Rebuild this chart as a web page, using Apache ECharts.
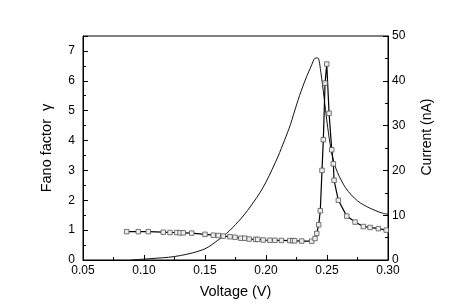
<!DOCTYPE html>
<html><head><meta charset="utf-8">
<script src="https://cdn.jsdelivr.net/npm/echarts@6/dist/echarts.min.js"></script>
<style>html,body{margin:0;padding:0;background:#fff}#c{width:450px;height:308px}</style>
</head><body><div id="c"></div>
<script>
// Fano factor (left axis), squares
const fanoV = [0.0858,0.0953,0.1035,0.1158,0.1213,0.1268,0.1295,0.1322,0.1391,0.150,0.1568,0.1609,0.165,0.1705,0.1746,0.1794,0.1826,0.1862,0.1915,0.1932,0.1977,0.2032,0.2073,0.2127,0.2195,0.2220,0.2235,0.2293,0.2375,0.2402,0.2416,0.2432,0.2445,0.2459,0.2470,0.2484,0.2498,0.2517,0.2539,0.2552,0.2558,0.2593,0.2662,0.2730,0.2798,0.2853,0.2921,0.2985];
const fanoF = [0.95,0.95,0.95,0.93,0.92,0.92,0.91,0.91,0.90,0.86,0.83,0.82,0.80,0.78,0.76,0.73,0.73,0.70,0.69,0.69,0.67,0.66,0.66,0.655,0.65,0.65,0.645,0.635,0.63,0.72,0.89,1.18,1.65,3.0,4.03,5.92,6.56,4.91,3.69,3.22,2.67,2.0,1.47,1.27,1.12,1.09,1.05,1.0];
// Current (right axis), thin line
const curV = [0.09,0.10,0.11,0.12,0.13,0.14,0.145,0.15,0.155,0.16,0.165,0.17,0.175,0.18,0.185,0.19,0.195,0.20,0.205,0.21,0.215,0.22,0.2225,0.225,0.2275,0.23,0.2325,0.235,0.2375,0.24,0.2425,0.245,0.2475,0.25,0.2525,0.255,0.2575,0.26,0.265,0.27,0.275,0.28,0.285,0.29,0.295,0.30];
const curI = [0,0.2,0.4,0.6,1.0,1.6,2.0,2.5,3.3,4.3,5.3,6.5,7.9,9.4,11.1,13.0,15.0,17.4,20.2,23.2,26.6,30.2,32.4,34.6,36.7,38.6,40.4,42.0,43.6,45.0,45.1,41.8,36.5,30.8,26.0,22.5,20.3,18.7,16.2,14.5,13.2,12.3,11.6,11.0,10.5,10.2];
const xTicks = {min:0.05,max:0.30,interval:0.05};
const leftTicks = {min:0,max:7.5,interval:1};
const rightTicks = {min:0,max:50,interval:10};

const fanoData = fanoV.map((v,i)=>[v,fanoF[i]]);
const curData = curV.map((v,i)=>[v,curI[i]]);
const font = 'Liberation Sans, Arial, sans-serif';
const chart = echarts.init(document.getElementById('c'), null, {renderer:'canvas'});
chart.setOption({
  animation:false,
  backgroundColor:'#fff',
  grid:{left:83,right:62,top:36,bottom:48,show:true,borderColor:'#000',borderWidth:1,backgroundColor:'transparent'},
  xAxis:[{
    type:'value',min:xTicks.min,max:xTicks.max,interval:xTicks.interval,
    name:'Voltage (V)',nameLocation:'middle',nameGap:24,
    nameTextStyle:{fontFamily:font,fontSize:14.5,color:'#000'},
    axisLine:{lineStyle:{color:'#000',width:1}},
    axisTick:{inside:true,length:5,lineStyle:{color:'#000'}},
    minorTick:{show:true,splitNumber:2,length:3,lineStyle:{color:'#000'}},
    axisLabel:{fontFamily:font,fontSize:12,color:'#000',margin:5,formatter:v=>v.toFixed(2)},
    splitLine:{show:false}
  }],
  yAxis:[{
    type:'value',position:'left',min:leftTicks.min,max:leftTicks.max,interval:leftTicks.interval,
    name:'Fano factor  \u03b3',nameLocation:'middle',nameGap:29,nameRotate:90,
    nameTextStyle:{fontFamily:font,fontSize:14.5,color:'#000'},
    axisLine:{show:true,lineStyle:{color:'#000',width:1}},
    axisTick:{inside:true,length:5,lineStyle:{color:'#000'}},
    axisLabel:{fontFamily:font,fontSize:12,color:'#000',margin:8,formatter:v=>(v===7.5?'':String(v))},
    splitLine:{show:false}
  },{
    type:'value',position:'right',min:rightTicks.min,max:rightTicks.max,interval:rightTicks.interval,
    name:'Current (nA)',nameLocation:'middle',nameGap:32,nameRotate:90,
    nameTextStyle:{fontFamily:font,fontSize:14,color:'#000',padding:[0,0,22,22]},
    axisLine:{show:true,lineStyle:{color:'#000',width:1}},
    axisTick:{inside:true,length:5,lineStyle:{color:'#000'}},
    minorTick:{show:true,splitNumber:2,length:3,lineStyle:{color:'#000'}},
    axisLabel:{fontFamily:font,fontSize:12,color:'#000',margin:4},
    splitLine:{show:false}
  },{
    type:'value',position:'left',min:leftTicks.min,max:leftTicks.max,interval:0.5,
    axisLine:{show:false},axisLabel:{show:false},splitLine:{show:false},
    axisTick:{inside:true,length:3,lineStyle:{color:'#000'}}
  }],
  series:[{
    type:'line',yAxisIndex:1,data:curData,smooth:0.3,showSymbol:false,
    lineStyle:{color:'#111',width:1},z:2
  },{
    type:'line',yAxisIndex:0,data:fanoData,symbol:'rect',symbolSize:4.5,showSymbol:true,
    lineStyle:{color:'#000',width:1.2},
    itemStyle:{color:'#ececec',borderColor:'#555',borderWidth:0.8},z:3
  }]
});
</script></body></html>
